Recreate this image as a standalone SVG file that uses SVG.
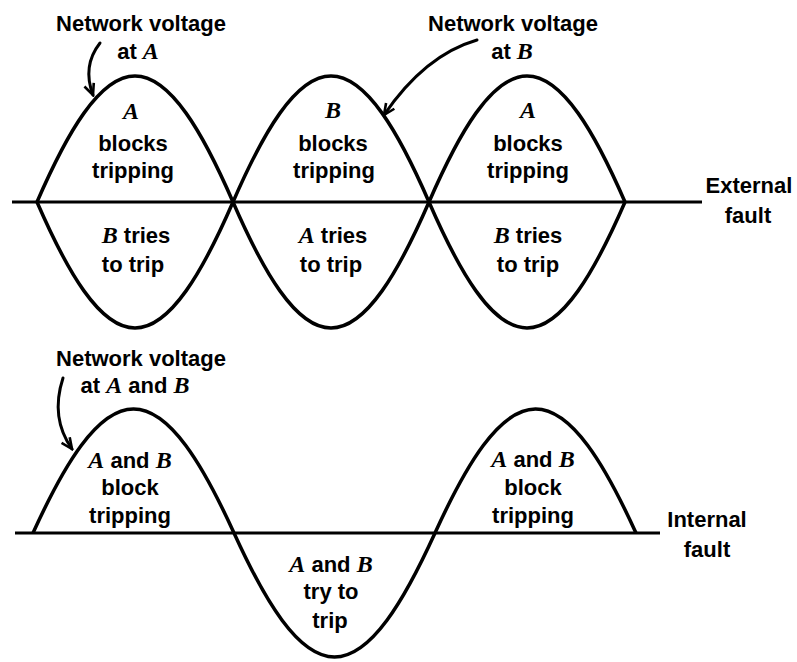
<svg xmlns="http://www.w3.org/2000/svg" width="797" height="662" viewBox="0 0 797 662">
<style>
.t{font-family:"Liberation Sans",Arial,sans-serif;font-weight:bold;font-size:22px;fill:#000;text-anchor:middle}
.v{font-family:"Liberation Serif","Times New Roman",serif;font-style:italic;font-weight:bold;font-size:24px}
.w{fill:none;stroke:#000;stroke-width:3.5;stroke-linejoin:round}
.ax{stroke:#000;stroke-width:3}
.c{fill:none;stroke:#000;stroke-width:3;stroke-linecap:round}
</style>
<defs>
<marker id="ah" viewBox="-12 -7 14 14" markerWidth="14" markerHeight="14" markerUnits="userSpaceOnUse" refX="0" refY="0" orient="auto">
<path d="M-11,-5 L0,0 L-11,5" fill="none" stroke="#000" stroke-width="2.6" stroke-linejoin="miter"/>
</marker>
</defs>
<rect width="797" height="662" fill="#fff"/>
<g id="external-fault-plot">
<line class="ax" x1="12" y1="202" x2="702" y2="202"/>
<path id="wave-A" class="w" d="M37,202 C67,133 99.5,76 135,76 C170.5,76 203,133 233,202 C263,271 295.5,328 331,328 C366.5,328 399,271 429,202 C459,133 491.5,76 527,76 C562.5,76 595,133 625,202"/>
<path id="wave-B" class="w" d="M37,202 C67,271 99.5,328 135,328 C170.5,328 203,271 233,202 C263,133 295.5,76 331,76 C366.5,76 399,133 429,202 C459,271 491.5,328 527,328 C562.5,328 595,271 625,202"/>
</g>
<g id="internal-fault-plot">
<line class="ax" x1="15" y1="533" x2="660" y2="533"/>
<path id="wave-AB" class="w" d="M33,533 C64,465 97.1,409 133.5,409 C169.9,409 203,465 234,533 C265,601 298.1,657 334.5,657 C370.9,657 404,601 435,533 C466,465 499.1,409 535.5,409 C571.9,409 605,465 636,533"/>
</g>
<g id="connectors">
<path class="c" d="M100,43 Q82,66 93,95" marker-end="url(#ah)"/>
<path class="c" d="M477,40 Q425,55 384,115" marker-end="url(#ah)"/>
<path class="c" d="M63,378 Q50,418 72,449" marker-end="url(#ah)"/>
</g>
<g id="label-voltage-A">
<text class="t" x="141" y="31">Network voltage</text>
<text class="t" x="138" y="59">at <tspan class="v">A</tspan></text>
</g>
<g id="label-voltage-B">
<text class="t" x="513" y="31">Network voltage</text>
<text class="t" x="512" y="59">at <tspan class="v">B</tspan></text>
</g>
<g id="lobe1-top">
<text class="t" x="131" y="119"><tspan class="v">A</tspan></text>
<text class="t" x="133" y="151">blocks</text>
<text class="t" x="133" y="178">tripping</text>
</g>
<g id="lobe2-top">
<text class="t" x="333" y="118"><tspan class="v">B</tspan></text>
<text class="t" x="333" y="151">blocks</text>
<text class="t" x="334" y="178">tripping</text>
</g>
<g id="lobe3-top">
<text class="t" x="528" y="118"><tspan class="v">A</tspan></text>
<text class="t" x="528" y="151">blocks</text>
<text class="t" x="528" y="178">tripping</text>
</g>
<g id="lobe1-bottom">
<text class="t" x="136" y="243"><tspan class="v">B</tspan> tries</text>
<text class="t" x="133" y="272">to trip</text>
</g>
<g id="lobe2-bottom">
<text class="t" x="333" y="243"><tspan class="v">A</tspan> tries</text>
<text class="t" x="331" y="272">to trip</text>
</g>
<g id="lobe3-bottom">
<text class="t" x="528" y="243"><tspan class="v">B</tspan> tries</text>
<text class="t" x="528" y="272">to trip</text>
</g>
<g id="label-external">
<text class="t" x="749" y="193">External</text>
<text class="t" x="748" y="223">fault</text>
</g>
<g id="label-voltage-AB">
<text class="t" x="141" y="366">Network voltage</text>
<text class="t" x="135" y="393">at <tspan class="v">A</tspan> and <tspan class="v">B</tspan></text>
</g>
<g id="int-lobe1">
<text class="t" x="130" y="468"><tspan class="v">A</tspan> and <tspan class="v">B</tspan></text>
<text class="t" x="130" y="495">block</text>
<text class="t" x="130" y="523">tripping</text>
</g>
<g id="int-lobe2">
<text class="t" x="331" y="572"><tspan class="v">A</tspan> and <tspan class="v">B</tspan></text>
<text class="t" x="331" y="599">try to</text>
<text class="t" x="330" y="628">trip</text>
</g>
<g id="int-lobe3">
<text class="t" x="533" y="467"><tspan class="v">A</tspan> and <tspan class="v">B</tspan></text>
<text class="t" x="533" y="495">block</text>
<text class="t" x="533" y="523">tripping</text>
</g>
<g id="label-internal">
<text class="t" x="707" y="527">Internal</text>
<text class="t" x="707" y="557">fault</text>
</g>
</svg>
